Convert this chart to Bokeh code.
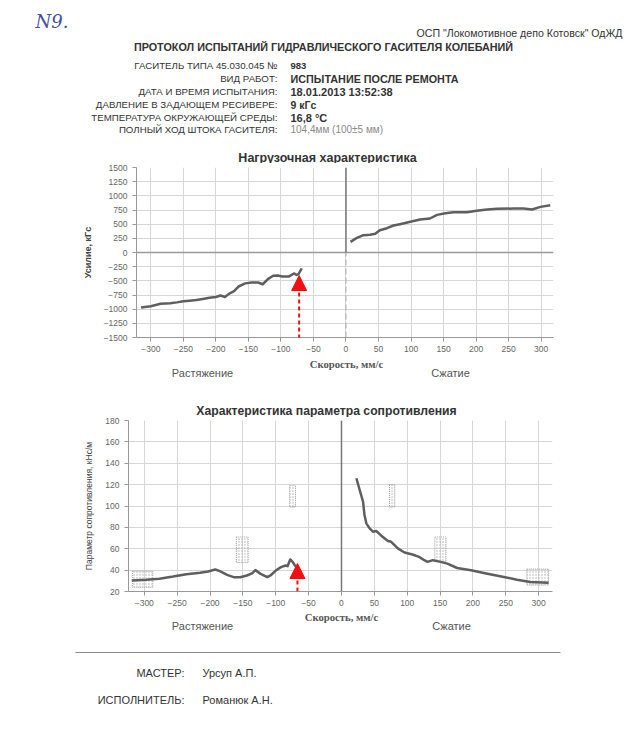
from bokeh.plotting import figure
from bokeh.layouts import column, row
from bokeh.models import Arrow, NormalHead, FixedTicker
from bokeh.core.properties import value
from bokeh.embed import file_html
from bokeh.resources import INLINE

SANS = "Liberation Sans"
SERIF = "Liberation Serif"

# ---------------- data ----------------
org_text = 'ОСП "Локомотивное депо Котовск" ОдЖД'
doc_title = "ПРОТОКОЛ ИСПЫТАНИЙ ГИДРАВЛИЧЕСКОГО ГАСИТЕЛЯ КОЛЕБАНИЙ"
field_labels = ["ГАСИТЕЛЬ ТИПА 45.030.045 №", "ВИД РАБОТ:", "ДАТА И ВРЕМЯ ИСПЫТАНИЯ:",
                "ДАВЛЕНИЕ В ЗАДАЮЩЕМ РЕСИВЕРЕ:", "ТЕМПЕРАТУРА ОКРУЖАЮЩЕЙ СРЕДЫ:",
                "ПОЛНЫЙ ХОД ШТОКА ГАСИТЕЛЯ:"]
field_values = ["983", "ИСПЫТАНИЕ ПОСЛЕ РЕМОНТА", "18.01.2013 13:52:38", "9 кГс",
                "16,8 °С", "104,4мм (100±5 мм)"]
footer_labels = ["МАСТЕР:", "ИСПОЛНИТЕЛЬ:"]
footer_values = ["Урсуп А.П.", "Романюк А.Н."]

chart1_title = "Нагрузочная характеристика"
chart2_title = "Характеристика параметра сопротивления"
x_label = "Скорость, мм/с"
side_labels = ["Растяжение", "Сжатие"]

# Chart 1: load characteristic (speed mm/s, force kgf)
tens_speed1 = [-315, -300, -285, -270, -260, -250, -240, -230, -220, -210, -200, -193, -186,
               -180, -172, -165, -155, -145, -135, -128, -120, -112, -105, -98, -88, -80,
               -76, -73, -68]
tens_force1 = [-970, -950, -905, -895, -880, -860, -850, -840, -820, -800, -785, -760, -785,
               -730, -680, -600, -545, -530, -530, -560, -470, -410, -405, -425, -425, -370,
               -395, -380, -280]
comp_speed1 = [7, 16, 27, 37, 45, 52, 63, 73, 83, 99, 114, 129, 140, 153, 165, 186, 201,
               217, 232, 258, 273, 286, 299, 314]
comp_force1 = [188, 253, 306, 312, 330, 394, 429, 476, 500, 541, 582, 600, 664, 694, 711,
               711, 735, 758, 770, 776, 776, 758, 805, 835]

# Chart 2: resistance parameter
tens_speed2 = [-319, -297, -277, -256, -236, -215, -203, -192, -185, -174, -164, -154, -144,
               -136, -131, -123, -113, -108, -100, -92, -85, -82, -78, -74, -69]
tens_param2 = [30.3, 31, 32, 34, 36.2, 37.5, 38.7, 40.6, 39, 35.6, 33.4, 33.4, 35, 37, 40,
               36.5, 33.4, 35, 39.6, 42.8, 44.3, 43.7, 50, 47.4, 42.8]
comp_speed2 = [22.7, 27.7, 32.8, 35, 37.8, 42.8, 47.9, 52.9, 60.5, 70.6, 75.6, 85.7, 95.8,
               108, 118, 126, 131, 139, 151, 161, 176, 197, 222, 247, 267, 287, 315]
comp_param2 = [126, 115, 104, 91.6, 83.8, 79, 76, 76.6, 72.2, 67.2, 66.5, 60.3, 56.5, 54.6,
               52.4, 49.3, 47.7, 49.3, 47.7, 46.1, 42, 39.9, 36.7, 33.6, 31, 28.9, 28.3]

# tolerance boxes on chart 2
box_left = [-318, -160, -79, 73, 142, 282]
box_right = [-287, -142, -70, 81, 159, 315]
box_bottom = [24, 47, 99, 99, 48, 26]
box_top = [39, 71, 119, 120, 71, 41]

x_ticks = list(range(-300, 301, 50))
y_ticks1 = list(range(-1500, 1501, 250))
y_ticks2 = list(range(20, 181, 20))

marker_speed1 = -72
marker_speed2 = -67

TEXT = "#333333"
GRID = "#d6d6d6"
LINE = "#5f5f5f"
RED = "#f01010"


def strip(h):
    f = figure(width=644, height=h, x_range=(0, 644), y_range=(h, 0),
               output_backend="svg", toolbar_location=None, min_border=0,
               min_border_left=0, min_border_right=0, min_border_top=0, min_border_bottom=0,
               x_axis_location=None, y_axis_location=None)
    f.grid.visible = False
    f.outline_line_color = None
    return f


def txt(f, x, y, s, size, align="left", bold=False, color=TEXT, font=SANS, style=None):
    fs = style if style else ("bold" if bold else "normal")
    f.text(x=[x], y=[y], text=[s], text_font=value(font), text_font_size=size,
           text_align=align, text_baseline="middle", text_color=color, text_font_style=fs)


# ---------------- header (page y 0..163) ----------------
head = strip(163)
txt(head, 35, 21, "N9.", "18px", color="#40509a", font="DejaVu Serif", style="italic")
txt(head, 622, 32, org_text, "10.6px", align="right")
txt(head, 323, 46, doc_title, "10.8px", align="center", bold=True)
rows_y = [65, 78, 91, 104, 117, 129]
val_sizes = ["9.5px", "10.8px", "11px", "10.5px", "11px", "10px"]
val_bold = [True, True, True, True, True, False]
for i in range(len(field_labels)):
    txt(head, 277, rows_y[i], field_labels[i], "9.7px", align="right")
    txt(head, 290, rows_y[i], field_values[i], val_sizes[i], bold=val_bold[i],
        color=TEXT if val_bold[i] else "#8a8a8a")
txt(head, 327, 157, chart1_title, "12.5px", align="center", bold=True)


def style_axes(p, ylabel, ylabel_bold, ylabel_size):
    p.outline_line_color = None
    p.xgrid.ticker = FixedTicker(ticks=x_ticks)
    p.xaxis.ticker = FixedTicker(ticks=x_ticks)
    p.grid.grid_line_color = GRID
    p.grid.grid_line_width = 1
    for ax in p.axis:
        ax.axis_line_color = "#999999"
        ax.major_tick_line_color = "#999999"
        ax.major_tick_out = 4
        ax.major_tick_in = 0
        ax.minor_tick_out = 0
        ax.minor_tick_in = 0
        ax.major_label_text_font = SANS
        ax.major_label_text_font_size = "8.5px"
        ax.major_label_text_color = "#666666"
    p.xaxis.major_label_standoff = 4
    p.yaxis.axis_label = ylabel
    p.yaxis.axis_label_text_font = SANS
    p.yaxis.axis_label_text_font_style = "bold" if ylabel_bold else "normal"
    p.yaxis.axis_label_text_font_size = ylabel_size
    p.yaxis.axis_label_text_color = "#444444"
    p.yaxis.axis_label_standoff = 8


def marker(p, x, y0, y1):
    p.add_layout(Arrow(x_start=x, y_start=y0, x_end=x, y_end=y1,
                       line_color=RED, line_width=2, line_dash="4 3",
                       end=NormalHead(size=15, fill_color=RED, line_color=RED, line_width=1)))


# ---------------- chart 1 (page y 163..357) ----------------
p1 = figure(width=644, height=194, x_range=(-322, 319), y_range=(-1500, 1500),
            output_backend="svg", toolbar_location=None,
            min_border_left=136, min_border_right=91, min_border_top=4, min_border_bottom=20)
style_axes(p1, "Усилие, кГс", True, "9px")
p1.ygrid.ticker = FixedTicker(ticks=y_ticks1)
p1.yaxis.ticker = FixedTicker(ticks=y_ticks1)
p1.line([-322, 319], [0, 0], line_color="#9a9a9a", line_width=1.5)
p1.line([0, 0], [0, 1500], line_color="#777777", line_width=1.5)
p1.line([0, 0], [-1500, 0], line_color="#aaaaaa", line_width=1, line_dash="6 3")
p1.line(tens_speed1, tens_force1, line_color=LINE, line_width=2.5, line_join="round")
p1.line(comp_speed1, comp_force1, line_color=LINE, line_width=2.5, line_join="round")
marker(p1, marker_speed1, -1641, -406)

# ---------------- middle strip (page y 357..417) ----------------
mid = strip(60)
txt(mid, 346, 6, x_label, "10.7px", align="center", bold=True, color="#555555", font=SERIF)
txt(mid, 202, 15, side_labels[0], "11px", align="center", color="#555555")
txt(mid, 450, 15, side_labels[1], "11px", align="center", color="#555555")
txt(mid, 326, 53, chart2_title, "12.2px", align="center", bold=True)

# ---------------- chart 2 (page y 417..611) ----------------
p2 = figure(width=644, height=194, x_range=(-324, 321), y_range=(20, 180),
            output_backend="svg", toolbar_location=None,
            min_border_left=128, min_border_right=92, min_border_top=3, min_border_bottom=20)
style_axes(p2, "Параметр сопротивления, кНс/м", False, "8.5px")
p2.ygrid.ticker = FixedTicker(ticks=y_ticks2)
p2.yaxis.ticker = FixedTicker(ticks=y_ticks2)
p2.line([0, 0], [20, 180], line_color="#777777", line_width=1.5)
p2.quad(left=box_left, right=box_right, bottom=box_bottom, top=box_top,
        fill_alpha=0, line_color="#a0a0a0", line_dash="1 1", line_width=1,
        hatch_pattern="dot", hatch_scale=3, hatch_color="#b0b0b0", hatch_weight=1)
p2.line(tens_speed2, tens_param2, line_color=LINE, line_width=2.5, line_join="round")
p2.line(comp_speed2, comp_param2, line_color=LINE, line_width=2.5, line_join="round")
marker(p2, marker_speed2, 13.4, 46.2)

# ---------------- footer (page y 611..744) ----------------
foot = strip(133)
txt(foot, 341, 5, x_label, "10.7px", align="center", bold=True, color="#555555", font=SERIF)
txt(foot, 202, 14, side_labels[0], "11px", align="center", color="#555555")
txt(foot, 451, 14, side_labels[1], "11px", align="center", color="#555555")
foot.line([75, 560], [41, 41], line_color="#8a8a8a", line_width=1)
txt(foot, 184, 61, footer_labels[0], "11px", align="right")
txt(foot, 202, 61, footer_values[0], "11px")
txt(foot, 184, 88, footer_labels[1], "11px", align="right")
txt(foot, 202, 88, footer_values[1], "11px")

page = column(row(head), row(p1), row(mid), row(p2), row(foot), spacing=0)
open("out.html", "w").write(file_html(page, INLINE))
